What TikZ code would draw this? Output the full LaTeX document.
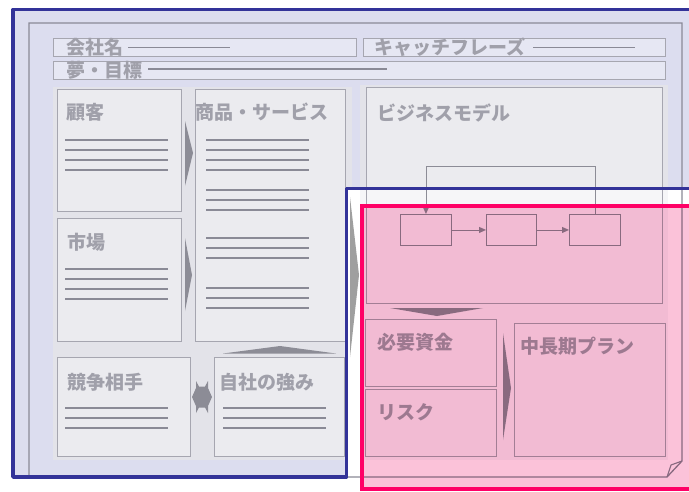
\documentclass[tikz,border=0pt]{standalone}
\usepackage{fontspec}
\newfontfamily\jp{Noto Sans CJK JP}
\usetikzlibrary{arrows.meta}
\definecolor{bgl}{HTML}{DCDDEF}
\definecolor{bandc}{HTML}{E3E3E9}
\definecolor{bandr}{HTML}{F6F6F8}
\definecolor{boxln}{HTML}{A6A6B0}
\definecolor{txtc}{HTML}{A0A0AA}
\definecolor{linec}{HTML}{8A8A96}
\definecolor{darkg}{HTML}{8C8C96}
\definecolor{bluec}{HTML}{333399}
\definecolor{pinkb}{HTML}{FF0066}
\definecolor{pinkf}{HTML}{FBC2D9}
\begin{document}
\begin{tikzpicture}[x=1pt,y=-1pt,
  panel/.style={draw=boxln, line width=0.9pt, fill=white, fill opacity=0.3, draw opacity=1, rectangle, anchor=north west, inner sep=0pt, outer sep=0pt},
  rpanel/.style={panel, fill opacity=0},
  lbl/.style={font=\jp\bfseries\fontsize{19}{20}\selectfont, text=txtc, anchor=west, inner sep=0pt},
  tline/.style={draw=linec, line width=1.8pt},
  flowbox/.style={draw=darkg, line width=0.9pt, rectangle, anchor=north west, inner sep=0pt, minimum width=51pt, minimum height=31pt},
  flow/.style={draw=darkg, line width=0.9pt, -{Triangle[length=7pt,width=6pt]}},
  tri/.style={fill=darkg, draw=none}
]
\useasboundingbox (0,0) rectangle (689,491);
\fill[white] (0,0) rectangle (689,491);
% blue area interior
\fill[bgl] (13,9.5) rectangle (700,477);
% left backing band
\fill[bandc] (53,87) rectangle (352,460);
% white area of second frame
\fill[white] (346.5,188.5) rectangle (700,495);
% right backing band
\fill[bandr] (360,85) rectangle (668,460);
\fill[bandc] (360,85) rectangle (668,188.5);

% inner page outline with folded corner
\draw[draw=linec, line width=1.3pt] (29,23) -- (682,23) -- (682,461) -- (667,477) -- (29,477) -- cycle;
\draw[draw=linec, line width=1.1pt] (667,477) -- (671,465) -- (682,461);

% header boxes
\node[panel, minimum width=303pt, minimum height=18pt] (kaisha) at (53,38) {};
\node[panel, minimum width=302pt, minimum height=18pt] (catch) at (363,38) {};
\node[panel, minimum width=612pt, minimum height=18pt] (yume) at (53,61) {};
\node[lbl] (tkaisha) at (66,47.5) {会社名};
\draw[tline] (128,47.5) -- (230,47.5);
\node[lbl] (tcatch) at (374,47.5) {キャッチフレーズ};
\draw[tline] (533,47.5) -- (635,47.5);
\node[lbl] (tyume) at (66,70) {夢・目標};
\draw[tline] (148,69) -- (387,69);

% left panels
\node[panel, minimum width=124pt, minimum height=122pt] (kokyaku) at (57,89) {};
\node[panel, minimum width=124pt, minimum height=123pt] (shijo) at (57,218) {};
\node[panel, minimum width=150pt, minimum height=252pt] (shohin) at (195,89) {};
\node[panel, minimum width=133pt, minimum height=99pt] (kyoso) at (57,357) {};
\node[panel, minimum width=130pt, minimum height=99pt] (jisha) at (214,357) {};

\node[lbl] at (66,112) {顧客};
\node[lbl] at (195,112) {商品・サービス};
\node[lbl] at (67,242) {市場};
\node[lbl] at (67,382) {競争相手};
\node[lbl] at (219,382) {自社の強み};

\foreach \y in {140,150,160,170} \draw[tline] (65,\y) -- (168,\y);
\foreach \y in {269,279,289,299} \draw[tline] (65,\y) -- (168,\y);
\foreach \y in {140,150,160,170,190,200,210,238,248,258,288,298,308} \draw[tline] (206,\y) -- (309,\y);
\foreach \y in {408,418,428} \draw[tline] (65,\y) -- (168,\y);
\foreach \y in {408,418,428} \draw[tline] (223,\y) -- (326,\y);

% left arrows
\fill[tri] (185,121) -- (193,153) -- (185,186) -- cycle;
\fill[tri] (185,238) -- (192,275) -- (185,311) -- cycle;
\fill[tri] (223,353.5) -- (280,346) -- (336,353.5) -- cycle;
\fill[tri] (192,397) -- (196,388) -- (196,381) -- (199,386.5) -- (205,386.5) -- (208,381) -- (208,388) -- (212,397)
  -- (208,406) -- (208,413) -- (205,407.5) -- (199,407.5) -- (196,413) -- (196,406) -- cycle;

% big arrow into business model
\fill[fill=gray!75] (350,197) -- (359,275) -- (350,357) -- cycle;

% right panels
\fill[white, fill opacity=0.3] (366,87) rectangle (662,188.5);
\node[rpanel, minimum width=296pt, minimum height=216pt] (bm) at (366,87) {};
\node[lbl] at (377,113) {ビジネスモデル};
\node[flowbox] (fb1) at (400,214) {};
\node[flowbox, minimum width=50pt] (fb2) at (486,214) {};
\node[flowbox] (fb3) at (569,214) {};
\draw[flow] (fb1.east) -- (fb2.west);
\draw[flow] (fb2.east) -- (fb3.west);
\draw[flow] (fb3.north) -- ++(0,-48) -| (fb1.north);

\node[rpanel, minimum width=131pt, minimum height=67pt] (hitsuyo) at (365,319) {};
\node[rpanel, minimum width=131pt, minimum height=67pt] (risk) at (365,389) {};
\node[rpanel, minimum width=151pt, minimum height=133pt] (chucho) at (514,323) {};
\node[lbl] at (377,342) {必要資金};
\node[lbl] at (377,412) {リスク};
\node[lbl] at (520,346) {中長期プラン};

\fill[tri] (390,308) -- (437,316) -- (483,308) -- cycle;
\fill[tri] (503,333) -- (511,388) -- (503,440) -- cycle;

% pink overlay
\fill[pinkf, blend mode=multiply] (361.5,205.5) rectangle (700,488.5);
\draw[pinkb, line width=4pt] (361.5,205.5) rectangle (700,488.5);

% blue frames
\draw[bluec, line width=3.5pt, line join=round] (700,188.5) -- (346.5,188.5) -- (346.5,477) -- (13,477) -- (13,9.5) -- (700,9.5);
\end{tikzpicture}
\end{document}
